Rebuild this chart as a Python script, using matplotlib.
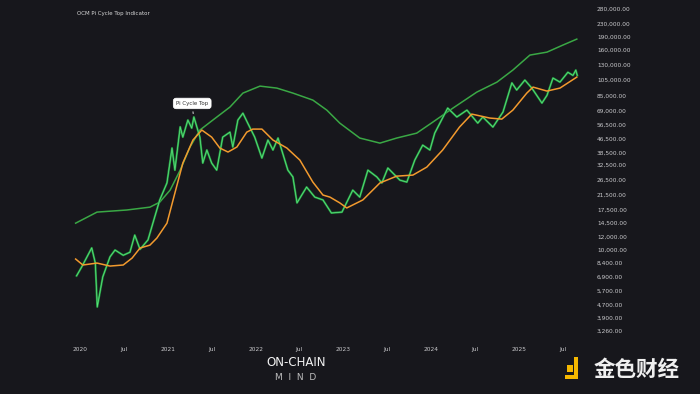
import matplotlib
matplotlib.use("Agg")
import matplotlib.pyplot as plt
import pandas as pd

# ---------------- data ----------------
price_dates = ["2019-12-18", "2020-01-08", "2020-02-19", "2020-03-05", "2020-03-13", "2020-04-05",
               "2020-05-05", "2020-05-26", "2020-06-29", "2020-07-27", "2020-08-16", "2020-09-07",
               "2020-10-10", "2020-11-07", "2020-11-28", "2020-12-28", "2021-01-18", "2021-01-30",
               "2021-02-21", "2021-03-04", "2021-03-25", "2021-04-10", "2021-04-19", "2021-05-14",
               "2021-05-26", "2021-06-12", "2021-07-02", "2021-07-23", "2021-08-17", "2021-09-16",
               "2021-09-28", "2021-10-19", "2021-11-09", "2021-11-29", "2021-12-28", "2022-01-27",
               "2022-02-21", "2022-03-14", "2022-04-04", "2022-05-15", "2022-06-05", "2022-06-22",
               "2022-08-01", "2022-09-04", "2022-10-08", "2022-11-12", "2022-12-26", "2023-02-09",
               "2023-03-10", "2023-04-13", "2023-05-20", "2023-06-10", "2023-07-05", "2023-08-24",
               "2023-09-22", "2023-10-25", "2023-11-27", "2023-12-27", "2024-01-16", "2024-03-10",
               "2024-04-17", "2024-05-29", "2024-07-13", "2024-08-03", "2024-09-14", "2024-10-26",
               "2024-12-02", "2024-12-22", "2025-01-25", "2025-02-23", "2025-04-06", "2025-04-27",
               "2025-05-22", "2025-06-20", "2025-07-23", "2025-08-13", "2025-08-25", "2025-08-31"]
price = [7000, 7900, 10300, 8350, 4550, 6900,
         9100, 10000, 9300, 9700, 12300, 10100,
         11500, 15800, 20000, 25300, 41000, 30200,
         55000, 47700, 60400, 54000, 63000, 47700,
         33300, 39900, 33300, 30200, 47700, 51100,
         41600, 60400, 66400, 57900, 47700, 35700,
         45800, 39900, 47100, 30200, 27500, 19200,
         23900, 20800, 20000, 16700, 16900, 22900,
         20800, 30200, 27500, 25300, 31100, 26300,
         25600, 34700, 42700, 39900, 50400, 71300,
         63000, 69300, 57900, 63000, 54800, 67500,
         101000, 91500, 105000, 94000, 76400, 85000,
         108000, 102100, 117000, 112000, 120600, 112000]

ma111_dates = ["2019-12-14", "2020-01-13", "2020-03-12", "2020-05-05", "2020-06-29", "2020-08-05",
               "2020-09-07", "2020-10-18", "2020-11-16", "2020-12-28", "2021-01-30", "2021-03-04",
               "2021-04-15", "2021-05-22", "2021-07-02", "2021-08-05", "2021-09-08", "2021-10-15",
               "2021-11-25", "2021-12-20", "2022-01-27", "2022-03-14", "2022-05-11", "2022-07-04",
               "2022-08-27", "2022-10-08", "2022-11-06", "2022-12-17", "2023-01-15", "2023-03-23",
               "2023-06-02", "2023-08-11", "2023-10-17", "2023-12-14", "2024-02-18", "2024-04-28",
               "2024-06-18", "2024-09-01", "2024-10-21", "2024-12-06", "2025-02-02", "2025-02-28",
               "2025-04-27", "2025-06-20", "2025-08-29"]
ma111 = [8830, 8130, 8350, 8010, 8130, 8950,
         10280, 10700, 11800, 14500, 22000, 33300,
         45800, 52600, 47700, 41000, 38800, 41600,
         51100, 53300, 53300, 45800, 41000, 34700,
         25600, 21400, 20800, 19200, 17900, 20000,
         25300, 27800, 28200, 31500, 39900, 54800,
         65600, 62100, 61200, 69300, 87700, 95300,
         90200, 94000, 109400]

ma350x2_dates = ["2019-12-14", "2020-03-12", "2020-07-14", "2020-10-18", "2020-11-28", "2021-01-10",
                 "2021-02-21", "2021-04-03", "2021-05-14", "2021-07-07", "2021-09-16", "2021-11-09",
                 "2022-01-19", "2022-03-30", "2022-06-05", "2022-08-27", "2022-10-24", "2022-12-17",
                 "2023-03-10", "2023-06-02", "2023-08-11", "2023-11-02", "2024-01-08", "2024-04-01",
                 "2024-07-09", "2024-10-01", "2024-12-06", "2025-02-15", "2025-04-27", "2025-07-02",
                 "2025-08-29"]
ma350x2 = [14500, 16900, 17400, 18100, 19400, 22900,
           30200, 41600, 52600, 60400, 72300, 87700,
           96600, 94000, 87700, 79600, 69300, 57900,
           47100, 43900, 47100, 50400, 58700, 71300,
           88900, 102100, 120600, 148400, 154600, 170400,
           185100]

ytick_vals = [280000, 230000, 190000, 160000, 130000, 105000, 85000, 69000, 56500, 46500,
              38500, 32500, 26500, 21500, 17500, 14500, 12000, 10000, 8400, 6900,
              5700, 4700, 3900, 3260]

# ---------------- plot ----------------
bg = "#17171c"
fig = plt.figure(figsize=(7, 3.94), dpi=100, facecolor=bg)
ax = fig.add_axes([60 / 700, 54 / 394, 530 / 700, 340 / 394], facecolor=bg)

pd_price = pd.to_datetime(price_dates)
ax.plot(pd.to_datetime(ma350x2_dates), ma350x2, color="#3aa845", lw=1.1, zorder=2)
ax.plot(pd_price, price, color="#23963f", lw=1.5, zorder=3)
ax.plot(pd_price, price, color="#5ae27c", lw=0.55, zorder=4)
ax.plot(pd.to_datetime(ma111_dates), ma111, color="#f29a2e", lw=1.1, zorder=5)

ax.set_yscale("log")
ax.set_ylim(2880, 318000)
ax.set_xlim(pd.Timestamp("2019-10-10"), pd.Timestamp("2025-10-23"))

ax.yaxis.tick_right()
ax.set_yticks(ytick_vals)
ax.set_yticklabels(["{:,.2f}".format(v) for v in ytick_vals])
ax.yaxis.set_minor_locator(matplotlib.ticker.NullLocator())
ax.tick_params(axis="y", length=0, pad=5, labelsize=4.2, labelcolor="#c9c9cc")

xt = []
xl = []
for yr in range(2020, 2026):
    xt += [pd.Timestamp(f"{yr}-01-01"), pd.Timestamp(f"{yr}-07-01")]
    xl += [str(yr), "Jul"]
ax.set_xticks(xt)
ax.set_xticklabels(xl)
ax.tick_params(axis="x", length=0, pad=5, labelsize=4.2, labelcolor="#c9c9cc")
for s in ax.spines.values():
    s.set_visible(False)

# title
fig.text(77 / 700, 1 - 13 / 394, "OCM Pi Cycle Top Indicator", color="#d8d8d8", fontsize=4, va="center")

# Pi Cycle Top annotation
ax.annotate("Pi Cycle Top", xy=(pd.Timestamp("2021-04-16"), 66000),
            xytext=(pd.Timestamp("2021-04-12"), 76000), ha="center", va="center",
            fontsize=4, color="#333333",
            bbox=dict(boxstyle="round,pad=0.5", fc="white", ec="white", lw=0.5),
            arrowprops=dict(arrowstyle="-", color="white", lw=0.6), zorder=10)

# ON-CHAIN MIND logo
fig.text(296 / 700, 1 - 363 / 394, "ON-CHAIN", color="#f2f2f2", fontsize=8.5, ha="center", va="center")
fig.text(296 / 700, 1 - 377 / 394, "M  I  N  D", color="#bdbdbd", fontsize=6.5, ha="center", va="center")

# watermark
yellow = "#f5b800"
fig.patches.append(plt.Rectangle((567 / 700, 1 - 372 / 394), 6 / 700, 7 / 394, transform=fig.transFigure, fc=yellow, ec="none"))
fig.patches.append(plt.Rectangle((574 / 700, 1 - 379 / 394), 4 / 700, 22 / 394, transform=fig.transFigure, fc=yellow, ec="none"))
fig.patches.append(plt.Rectangle((565 / 700, 1 - 379 / 394), 13 / 700, 4 / 394, transform=fig.transFigure, fc=yellow, ec="none"))
fig.text(594 / 700, 1 - 369 / 394, "金色财经", color="#f0f0f0", fontsize=15.5, ha="left", va="center",
         family=["Noto Sans CJK SC", "DejaVu Sans"], fontweight="bold")

fig.savefig("out.png", dpi=100, facecolor=bg)
